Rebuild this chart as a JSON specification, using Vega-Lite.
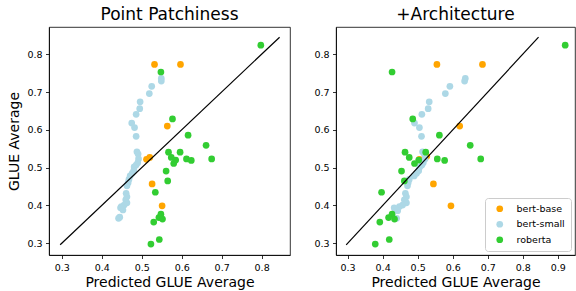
{
  "$schema": "https://vega.github.io/schema/vega-lite/v6.json",
  "padding": {"left": 7, "top": 5, "right": 0, "bottom": 0},
  "background": "white",
  "config": {
    "font": "DejaVu Sans",
    "view": {"stroke": "black", "strokeWidth": 0.8},
    "axis": {"grid": false, "domainColor": "black", "domainWidth": 0.8, "tickColor": "black", "tickWidth": 0.8, "tickSize": 3.5, "labelFontSize": 9.5, "labelColor": "black", "labelPadding": 3.5, "labelOverlap": false, "labelFlush": false, "titleFontSize": 14, "titleFontWeight": "normal", "titleColor": "black", "labelFont": "DejaVu Sans", "titleFont": "DejaVu Sans"},
    "axisY": {"titlePadding": 5},
    "axisX": {"titlePadding": 4},
    "title": {"fontSize": 17, "fontWeight": "normal", "font": "DejaVu Sans", "color": "black", "offset": 3},
    "concat": {"spacing": 46},
    "legend": {"orient": "bottom-right", "offset": 4, "strokeColor": "#cccccc", "fillColor": "white", "padding": 6, "cornerRadius": 3, "labelFontSize": 9.5, "labelColor": "black", "symbolType": "circle", "symbolSize": 45, "symbolStrokeWidth": 0, "symbolOffset": 4, "labelOffset": 12, "rowPadding": 4.5}
  },
  "datasets": {
    "pts": [
      {"p": "pp", "m": "bert-base", "x": 0.532, "y": 0.773},
      {"p": "pp", "m": "bert-base", "x": 0.597, "y": 0.773},
      {"p": "pp", "m": "bert-base", "x": 0.564, "y": 0.610},
      {"p": "pp", "m": "bert-base", "x": 0.512, "y": 0.522},
      {"p": "pp", "m": "bert-base", "x": 0.520, "y": 0.527},
      {"p": "pp", "m": "bert-base", "x": 0.526, "y": 0.457},
      {"p": "pp", "m": "bert-base", "x": 0.551, "y": 0.399},
      {"p": "arch", "m": "bert-base", "x": 0.555, "y": 0.773},
      {"p": "arch", "m": "bert-base", "x": 0.685, "y": 0.773},
      {"p": "arch", "m": "bert-base", "x": 0.620, "y": 0.610},
      {"p": "arch", "m": "bert-base", "x": 0.505, "y": 0.522},
      {"p": "arch", "m": "bert-base", "x": 0.526, "y": 0.530},
      {"p": "arch", "m": "bert-base", "x": 0.545, "y": 0.457},
      {"p": "arch", "m": "bert-base", "x": 0.595, "y": 0.399},
      {"p": "pp", "m": "bert-small", "x": 0.549, "y": 0.736},
      {"p": "pp", "m": "bert-small", "x": 0.549, "y": 0.729},
      {"p": "pp", "m": "bert-small", "x": 0.525, "y": 0.715},
      {"p": "pp", "m": "bert-small", "x": 0.519, "y": 0.696},
      {"p": "pp", "m": "bert-small", "x": 0.496, "y": 0.674},
      {"p": "pp", "m": "bert-small", "x": 0.495, "y": 0.656},
      {"p": "pp", "m": "bert-small", "x": 0.486, "y": 0.641},
      {"p": "pp", "m": "bert-small", "x": 0.475, "y": 0.618},
      {"p": "pp", "m": "bert-small", "x": 0.482, "y": 0.606},
      {"p": "pp", "m": "bert-small", "x": 0.486, "y": 0.583},
      {"p": "pp", "m": "bert-small", "x": 0.488, "y": 0.542},
      {"p": "pp", "m": "bert-small", "x": 0.491, "y": 0.536},
      {"p": "pp", "m": "bert-small", "x": 0.492, "y": 0.523},
      {"p": "pp", "m": "bert-small", "x": 0.490, "y": 0.513},
      {"p": "pp", "m": "bert-small", "x": 0.486, "y": 0.507},
      {"p": "pp", "m": "bert-small", "x": 0.481, "y": 0.502},
      {"p": "pp", "m": "bert-small", "x": 0.480, "y": 0.492},
      {"p": "pp", "m": "bert-small", "x": 0.476, "y": 0.485},
      {"p": "pp", "m": "bert-small", "x": 0.471, "y": 0.478},
      {"p": "pp", "m": "bert-small", "x": 0.468, "y": 0.469},
      {"p": "pp", "m": "bert-small", "x": 0.466, "y": 0.460},
      {"p": "pp", "m": "bert-small", "x": 0.463, "y": 0.452},
      {"p": "pp", "m": "bert-small", "x": 0.461, "y": 0.432},
      {"p": "pp", "m": "bert-small", "x": 0.463, "y": 0.423},
      {"p": "pp", "m": "bert-small", "x": 0.460, "y": 0.415},
      {"p": "pp", "m": "bert-small", "x": 0.463, "y": 0.407},
      {"p": "pp", "m": "bert-small", "x": 0.456, "y": 0.401},
      {"p": "pp", "m": "bert-small", "x": 0.449, "y": 0.397},
      {"p": "pp", "m": "bert-small", "x": 0.453, "y": 0.388},
      {"p": "pp", "m": "bert-small", "x": 0.447, "y": 0.394},
      {"p": "pp", "m": "bert-small", "x": 0.445, "y": 0.369},
      {"p": "pp", "m": "bert-small", "x": 0.442, "y": 0.366},
      {"p": "arch", "m": "bert-small", "x": 0.636, "y": 0.736},
      {"p": "arch", "m": "bert-small", "x": 0.634, "y": 0.729},
      {"p": "arch", "m": "bert-small", "x": 0.592, "y": 0.715},
      {"p": "arch", "m": "bert-small", "x": 0.579, "y": 0.696},
      {"p": "arch", "m": "bert-small", "x": 0.533, "y": 0.674},
      {"p": "arch", "m": "bert-small", "x": 0.530, "y": 0.656},
      {"p": "arch", "m": "bert-small", "x": 0.512, "y": 0.641},
      {"p": "arch", "m": "bert-small", "x": 0.491, "y": 0.618},
      {"p": "arch", "m": "bert-small", "x": 0.505, "y": 0.606},
      {"p": "arch", "m": "bert-small", "x": 0.511, "y": 0.583},
      {"p": "arch", "m": "bert-small", "x": 0.514, "y": 0.542},
      {"p": "arch", "m": "bert-small", "x": 0.519, "y": 0.536},
      {"p": "arch", "m": "bert-small", "x": 0.521, "y": 0.523},
      {"p": "arch", "m": "bert-small", "x": 0.516, "y": 0.513},
      {"p": "arch", "m": "bert-small", "x": 0.512, "y": 0.507},
      {"p": "arch", "m": "bert-small", "x": 0.506, "y": 0.502},
      {"p": "arch", "m": "bert-small", "x": 0.503, "y": 0.492},
      {"p": "arch", "m": "bert-small", "x": 0.497, "y": 0.485},
      {"p": "arch", "m": "bert-small", "x": 0.490, "y": 0.478},
      {"p": "arch", "m": "bert-small", "x": 0.476, "y": 0.469},
      {"p": "arch", "m": "bert-small", "x": 0.473, "y": 0.460},
      {"p": "arch", "m": "bert-small", "x": 0.471, "y": 0.452},
      {"p": "arch", "m": "bert-small", "x": 0.465, "y": 0.432},
      {"p": "arch", "m": "bert-small", "x": 0.468, "y": 0.423},
      {"p": "arch", "m": "bert-small", "x": 0.462, "y": 0.415},
      {"p": "arch", "m": "bert-small", "x": 0.468, "y": 0.407},
      {"p": "arch", "m": "bert-small", "x": 0.457, "y": 0.401},
      {"p": "arch", "m": "bert-small", "x": 0.448, "y": 0.397},
      {"p": "arch", "m": "bert-small", "x": 0.438, "y": 0.388},
      {"p": "arch", "m": "bert-small", "x": 0.433, "y": 0.394},
      {"p": "arch", "m": "bert-small", "x": 0.443, "y": 0.386},
      {"p": "arch", "m": "bert-small", "x": 0.440, "y": 0.366},
      {"p": "pp", "m": "roberta", "x": 0.798, "y": 0.824},
      {"p": "pp", "m": "roberta", "x": 0.548, "y": 0.753},
      {"p": "pp", "m": "roberta", "x": 0.577, "y": 0.629},
      {"p": "pp", "m": "roberta", "x": 0.616, "y": 0.586},
      {"p": "pp", "m": "roberta", "x": 0.661, "y": 0.559},
      {"p": "pp", "m": "roberta", "x": 0.567, "y": 0.541},
      {"p": "pp", "m": "roberta", "x": 0.596, "y": 0.541},
      {"p": "pp", "m": "roberta", "x": 0.574, "y": 0.527},
      {"p": "pp", "m": "roberta", "x": 0.585, "y": 0.520},
      {"p": "pp", "m": "roberta", "x": 0.580, "y": 0.511},
      {"p": "pp", "m": "roberta", "x": 0.612, "y": 0.523},
      {"p": "pp", "m": "roberta", "x": 0.624, "y": 0.519},
      {"p": "pp", "m": "roberta", "x": 0.675, "y": 0.523},
      {"p": "pp", "m": "roberta", "x": 0.561, "y": 0.491},
      {"p": "pp", "m": "roberta", "x": 0.565, "y": 0.465},
      {"p": "pp", "m": "roberta", "x": 0.534, "y": 0.435},
      {"p": "pp", "m": "roberta", "x": 0.548, "y": 0.377},
      {"p": "pp", "m": "roberta", "x": 0.543, "y": 0.368},
      {"p": "pp", "m": "roberta", "x": 0.552, "y": 0.364},
      {"p": "pp", "m": "roberta", "x": 0.530, "y": 0.356},
      {"p": "pp", "m": "roberta", "x": 0.544, "y": 0.310},
      {"p": "pp", "m": "roberta", "x": 0.523, "y": 0.298},
      {"p": "arch", "m": "roberta", "x": 0.921, "y": 0.824},
      {"p": "arch", "m": "roberta", "x": 0.427, "y": 0.753},
      {"p": "arch", "m": "roberta", "x": 0.486, "y": 0.629},
      {"p": "arch", "m": "roberta", "x": 0.562, "y": 0.586},
      {"p": "arch", "m": "roberta", "x": 0.650, "y": 0.559},
      {"p": "arch", "m": "roberta", "x": 0.464, "y": 0.541},
      {"p": "arch", "m": "roberta", "x": 0.523, "y": 0.541},
      {"p": "arch", "m": "roberta", "x": 0.476, "y": 0.527},
      {"p": "arch", "m": "roberta", "x": 0.503, "y": 0.520},
      {"p": "arch", "m": "roberta", "x": 0.491, "y": 0.511},
      {"p": "arch", "m": "roberta", "x": 0.556, "y": 0.523},
      {"p": "arch", "m": "roberta", "x": 0.577, "y": 0.519},
      {"p": "arch", "m": "roberta", "x": 0.680, "y": 0.523},
      {"p": "arch", "m": "roberta", "x": 0.454, "y": 0.491},
      {"p": "arch", "m": "roberta", "x": 0.462, "y": 0.465},
      {"p": "arch", "m": "roberta", "x": 0.397, "y": 0.435},
      {"p": "arch", "m": "roberta", "x": 0.427, "y": 0.377},
      {"p": "arch", "m": "roberta", "x": 0.417, "y": 0.368},
      {"p": "arch", "m": "roberta", "x": 0.434, "y": 0.364},
      {"p": "arch", "m": "roberta", "x": 0.392, "y": 0.356},
      {"p": "arch", "m": "roberta", "x": 0.419, "y": 0.310},
      {"p": "arch", "m": "roberta", "x": 0.379, "y": 0.298}
    ],
    "diag": [{"v": 0.296}, {"v": 0.845}]
  },
  "bounds": "flush",
  "hconcat": [
    {
      "width": 241,
      "height": 228,
      "title": "Point Patchiness",
      "layer": [
        {
          "data": {"name": "pts"},
          "transform": [{"filter": "datum.p == 'pp'"}],
          "mark": {"type": "circle", "size": 45, "opacity": 1},
          "encoding": {
            "x": {"field": "x", "type": "quantitative", "scale": {"domain": [0.268, 0.871], "zero": false, "nice": false}, "axis": {"values": [0.3, 0.4, 0.5, 0.6, 0.7, 0.8], "tickCount": 12, "format": ".1f", "labelOverlap": false, "title": "Predicted GLUE Average"}},
            "y": {"field": "y", "type": "quantitative", "scale": {"domain": [0.269, 0.872], "zero": false, "nice": false}, "axis": {"values": [0.3, 0.4, 0.5, 0.6, 0.7, 0.8], "tickCount": 12, "format": ".1f", "labelOverlap": false, "title": "GLUE Average"}},
            "color": {"field": "m", "type": "nominal", "scale": {"domain": ["bert-base", "bert-small", "roberta"], "range": ["#ffa500", "#add8e6", "#32cd32"]}, "legend": null}
          }
        },
        {
          "data": {"name": "diag"},
          "mark": {"type": "line", "color": "black", "strokeWidth": 1.2},
          "encoding": {
            "x": {"field": "v", "type": "quantitative"},
            "y": {"field": "v", "type": "quantitative"}
          }
        }
      ]
    },
    {
      "width": 239,
      "height": 228,
      "title": "+Architecture",
      "layer": [
        {
          "data": {"name": "pts"},
          "transform": [{"filter": "datum.p == 'arch'"}],
          "mark": {"type": "circle", "size": 45, "opacity": 1},
          "encoding": {
            "x": {"field": "x", "type": "quantitative", "scale": {"domain": [0.267, 0.949], "zero": false, "nice": false}, "axis": {"values": [0.3, 0.4, 0.5, 0.6, 0.7, 0.8, 0.9], "tickCount": 12, "format": ".1f", "labelOverlap": false, "title": "Predicted GLUE Average"}},
            "y": {"field": "y", "type": "quantitative", "scale": {"domain": [0.269, 0.872], "zero": false, "nice": false}, "axis": {"values": [0.3, 0.4, 0.5, 0.6, 0.7, 0.8], "tickCount": 12, "format": ".1f", "labelOverlap": false, "title": null}},
            "color": {"field": "m", "type": "nominal", "scale": {"domain": ["bert-base", "bert-small", "roberta"], "range": ["#ffa500", "#add8e6", "#32cd32"]}, "legend": {"title": null}}
          }
        },
        {
          "data": {"name": "diag"},
          "mark": {"type": "line", "color": "black", "strokeWidth": 1.2},
          "encoding": {
            "x": {"field": "v", "type": "quantitative"},
            "y": {"field": "v", "type": "quantitative"}
          }
        }
      ]
    }
  ],
  "resolve": {"scale": {"x": "independent", "y": "independent", "color": "independent"}, "legend": {"color": "independent"}}
}
